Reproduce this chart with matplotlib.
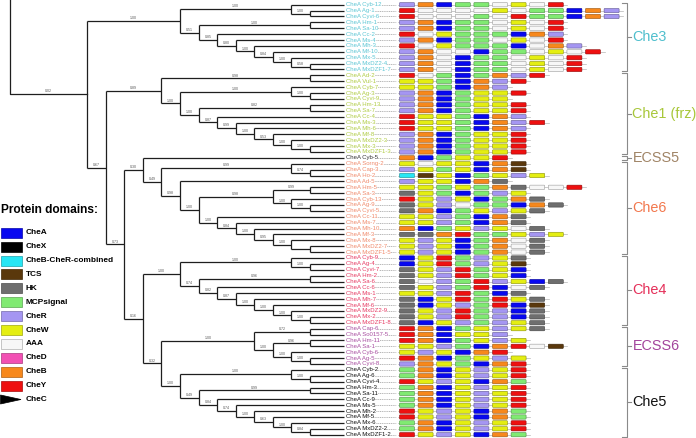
import matplotlib.pyplot as plt
import matplotlib.colors as mcolors
from matplotlib import font_manager
from matplotlib.patches import FancyBboxPatch, Rectangle, Polygon

# narrow font if present, otherwise Liberation Sans with smaller sizes
_avail = {f.name for f in font_manager.fontManager.ttflist}
if "Liberation Sans Narrow" in _avail:
    NARROW, SC = ["Liberation Sans Narrow", "DejaVu Sans"], 1.0
else:
    NARROW, SC = ["Liberation Sans", "DejaVu Sans"], 0.8

# ---- tree (support values as internal labels) ----
che3_c = "(Cc-2,(Ms-4,(Mh-3,(Mf-10,(Mx-5,(MxDZ2-4,MxDZF1-7)0.58)1.00)0.84)1.00)0.80)0.85"
che3 = "((Cyb-12,(Ag-1,Cyvi-6)1.00)1.00,((Hm-1,Sa-10)1.00," + che3_c + ")0.51)1.00"
che1_s = "(Cc-4,(Ms-3,(Mh-6,(Mf-8,(MxDZ2-3,(Mx-3,MxDZF1-3)1.00)1.00)0.53)1.00)0.99)0.87"
che1 = "((Ad-2,Vul-1)0.98,((Cyb-7,(Ag-3,Cyvi-9)1.00)1.00,((Hm-13,Sa-7)0.82," + che1_s + ")1.00)1.00)0.89"
che6_a = "((Hm-5,Sa-3)0.99,(Cyb-13,(Ag-9,Cyvi-5)1.00)1.00)0.98"
che6_b = "(Cc-11,(Ms-7,(Mh-10,(Mf-3,(Mx-8,(MxDZ2-7,MxDZF1-5))1.00)0.95)1.00)0.84)1.00"
che6 = "((Sorng-2,(Cap-3,Ho-2)0.74)0.99,(Ad-5,(" + che6_a + "," + che6_b + ")1.00)0.98)0.49"
ecss5 = "Cyb-5"
che4_b = "(Cc-6,(Ms-1,(Mh-7,(Mf-6,(MxDZ2-9,(Mx-2,MxDZF1-8)1.00)1.00)1.00)1.00)0.87)0.82"
che4 = "((Cyb-9,(Ag-4,Cyvi-7)1.00)1.00,((Hm-2,Sa-6)0.96," + che4_b + ")0.74)1.00"
ecss6 = "((Cap-6,So0157-5)0.72,((Hm-11,Sa-1)0.96,(Cyb-6,(Ag-5,Cyvi-8)1.00)1.00)1.00)1.00"
che5_b = "(Cc-9,(Ms-5,(Mh-2,(Mf-5,(Mx-6,(MxDZ2-2,MxDZF1-2)0.84)1.00)0.63)1.00)0.74)0.84"
che5 = "((Cyb-2,(Ag-6,Cyvi-4)1.00)1.00,((Hm-3,Sa-11)0.99," + che5_b + ")0.49)1.00"

tree = ("(" + che3 + ",(" + che1 + ",((" + ecss5 + "," + che6 + ")0.30,(" + che4 +
        ",(" + ecss6 + "," + che5 + ")0.32)0.16)0.73)0.67)0.02")

# ---- domain architectures (codes, leaf order) ----
che3_dom = ["RBAMMNWNY", "YNNNNWNMMABR", "YNNNMNYMMABR", "RBAMMNWNY", "RBAMMNWNY",
            "YNWMMMABR", "RBAMMNWNY", "YNWMMMANBR", "RBNNAMMNWNY", "RBNAMMNWNY",
            "RBNAMMNWNY", "RBNAMMNWNY"]
che1_dom = ["YNMAMBRY", "WWMABRY", "WWMABR", "RBAMWWY", "RBAMWW", "RBAMWWY", "RBAMWWY",
            "YWWMABR", "YWWMABRY", "YWWMABR", "RBAMWWY", "RBAMWWY", "RBAMWWY", "RBAMWWY"]
ecss5_dom = ["BAMWWY"]
che6_dom = ["WNWWABT", "RWMWABT", "CTWAMWRW", "RWWABH", "WWMWMBHNNY", "HWMAMRW",
            "YWRWAMBH", "HWRNMMABH", "HBAMWRWH", "WWRMABH", "WWRMABH", "BAMWRWNH",
            "HHBYMMWRW", "WRWAMBNH", "WRWAMBNH", "WRWAMBNH"]
che4_dom = ["AWYMRWH", "AWYMRWT", "HWRYMWA", "HWRYMWA", "HNRMYRWAH", "HWRMYANH",
            "WWRYMAH", "HAWYMYWH", "HAWRMYAT", "HWRYMRAH", "HWRYMRAH", "HAWRMRWH"]
ecss6_dom = ["YBAMWRWH", "YBAWWR", "YBAMWRW", "WWRMABYNT", "WRWABY", "YBAMWRW", "RBWMABY"]
che5_dom = ["MBAWRWY", "MBAWRWY", "YWRWABM", "MBAWRWY", "MBAWRWY", "MBAWRWY", "MBAWRWY",
            "YWRWABM", "YWRWABM", "MBAWRWY", "MBAWRWY", "YWRWABM"]

# legend
domain_names = ["CheA", "CheX", "CheB-CheR-combined", "TCS", "HK", "MCPsignal", "CheR",
                "CheW", "AAA", "CheD", "CheB", "CheY", "CheC"]
domain_codes = ["A", "X", "C", "T", "H", "M", "R", "W", "N", "D", "B", "Y", "K"]
domain_colors = ["#0808f0", "#000000", "#28e6f4", "#5a380c", "#6e6e6e", "#80ea72", "#a596f2",
                 "#e4ee12", "#f7f7f7", "#f250b4", "#f7881c", "#ee1010", "#000000"]

groups = ["Che3", "Che1 (frz)", "ECSS5", "Che6", "Che4", "ECSS6", "Che5"]
group_trees = [che3, che1, ecss5, che6, che4, ecss6, che5]
group_doms = [che3_dom, che1_dom, ecss5_dom, che6_dom, che4_dom, ecss6_dom, che5_dom]
group_colors = ["#4fbfcd", "#a8c73a", "#a08466", "#f2784e", "#e5305a", "#a3459c", "#111111"]
leaf_colors = ["#5cc6d4", "#b0cc44", "#333333", "#f08a6c", "#e63a62", "#a84ea0", "#111111"]


def parse(s):
    pos = [0]

    def read():
        st = pos[0]
        while pos[0] < len(s) and s[pos[0]] not in ",();":
            pos[0] += 1
        return s[st:pos[0]].strip()

    def node():
        if s[pos[0]] == "(":
            pos[0] += 1
            kids = [node()]
            while s[pos[0]] == ",":
                pos[0] += 1
                kids.append(node())
            pos[0] += 1
            return {"kids": kids, "label": read()}
        return {"kids": [], "label": read()}
    return node()


def leaf_names(n):
    if not n["kids"]:
        return [n["label"]]
    out = []
    for k in n["kids"]:
        out += leaf_names(k)
    return out


code_color = dict(zip(domain_codes, domain_colors))
leaf_group, leaf_dom = {}, {}
for gi, (gt, gd) in enumerate(zip(group_trees, group_doms)):
    for name, d in zip(leaf_names(parse(gt)), gd):
        leaf_group[name] = gi
        leaf_dom[name] = d

# layout constants (pixels)
Y0, DY = 4.7, 5.89
TIP_X, NODE_X0, STEP, ROOT_X = 344, 328.6, 18.57, 10
BOX_X0, BOX_DX, BOX_W, BOX_H = 399.5, 18.6, 15, 4.3

root = parse(tree)
leaves = []


def place(n):
    if not n["kids"]:
        n["y"] = Y0 + DY * len(leaves)
        n["h"] = 0
        n["x"] = TIP_X
        leaves.append(n)
        return
    for k in n["kids"]:
        place(k)
    n["h"] = 1 + max(k["h"] for k in n["kids"])
    n["x"] = NODE_X0 - STEP * n["h"]
    n["y"] = (n["kids"][0]["y"] + n["kids"][-1]["y"]) / 2


place(root)

fig = plt.figure(figsize=(6.96, 4.38), dpi=100)
ax = fig.add_axes([0, 0, 1, 1])
ax.set_xlim(0, 696)
ax.set_ylim(438, 0)
ax.axis("off")

LC, LW = "#1e1e1e", 0.9


def support(x0, x1, y, lab):
    if lab:
        ax.text((x0 + x1) / 2, y - 0.8, lab, fontsize=2.6, color="#555555",
                ha="center", va="bottom", family=NARROW)


def draw(n):
    if not n["kids"]:
        return
    ax.plot([n["x"], n["x"]], [n["kids"][0]["y"], n["kids"][-1]["y"]], color=LC, lw=LW,
            solid_capstyle="butt")
    for k in n["kids"]:
        ax.plot([n["x"], k["x"]], [k["y"], k["y"]], color=LC, lw=LW, solid_capstyle="butt")
        if k["kids"]:
            support(n["x"], k["x"], k["y"], k["label"])
        draw(k)


draw(root)
ax.plot([ROOT_X, ROOT_X, root["x"]], [0, root["y"], root["y"]], color=LC, lw=LW)
support(ROOT_X, root["x"], root["y"], root["label"])

# leaves: labels, leaders, domain boxes
for lf in leaves:
    name, y = lf["label"], lf["y"]
    gi = leaf_group[name]
    ax.plot([TIP_X + 3, 396], [y, y], color="#9a9a9a", lw=0.5, ls=(0, (1.6, 1.0)), zorder=1)
    ax.text(TIP_X + 1.5, y, "CheA " + name, fontsize=5.4 * SC, color=leaf_colors[gi],
            va="center", ha="left", family=NARROW, zorder=2,
            bbox=dict(facecolor="white", edgecolor="none", pad=0.4))
    dom = leaf_dom[name]
    x_end = BOX_X0 + (len(dom) - 1) * BOX_DX + BOX_W + 4
    ax.plot([BOX_X0 - 2, x_end], [y, y], color="#b5b5b5", lw=0.5, zorder=2)
    for j, c in enumerate(dom):
        fc = code_color[c]
        ec = "#9a9a9a" if c == "N" else tuple(v * 0.6 for v in mcolors.to_rgb(fc))
        ax.add_patch(FancyBboxPatch((BOX_X0 + j * BOX_DX, y - BOX_H / 2), BOX_W, BOX_H,
                                    boxstyle="round,pad=0,rounding_size=0.8",
                                    facecolor=fc, edgecolor=ec, lw=0.4, zorder=3))

# clade brackets
by_group = {}
for lf in leaves:
    by_group.setdefault(leaf_group[lf["label"]], []).append(lf["y"])
for gi, ys in by_group.items():
    top, bot = min(ys) - 2.0, max(ys) + 2.0
    mid = (top + bot) / 2
    ax.plot([622, 627, 627, 622], [top, top, bot, bot], color="#8a8a8a", lw=0.8)
    ax.plot([627, 631], [mid, mid], color="#8a8a8a", lw=0.8)
    ax.text(632.5, mid, groups[gi], fontsize=13 * SC, color=group_colors[gi], va="center",
            ha="left", family=NARROW)

# legend
ax.text(1, 210, "Protein domains:", fontsize=9 if SC == 1.0 else 8.6, fontweight="bold",
        va="center", ha="left", family=NARROW)
for i, (nm, c, fc) in enumerate(zip(domain_names, domain_codes, domain_colors)):
    y = 232.7 + i * 13.9
    if c == "K":
        ax.add_patch(Polygon([(0.5, y - 4.5), (21, y), (0.5, y + 4.5)], closed=True,
                             facecolor=fc, edgecolor=fc, lw=0.5))
    else:
        ec = "#b0b0b0" if c == "N" else tuple(v * 0.7 for v in mcolors.to_rgb(fc))
        ax.add_patch(Rectangle((0.5, y - 5), 21, 10, facecolor=fc, edgecolor=ec, lw=0.5))
    ax.text(26, y, nm, fontsize=7.4 * SC, fontweight="bold", va="center", ha="left",
            family=NARROW)

fig.savefig("out.png", dpi=100)
